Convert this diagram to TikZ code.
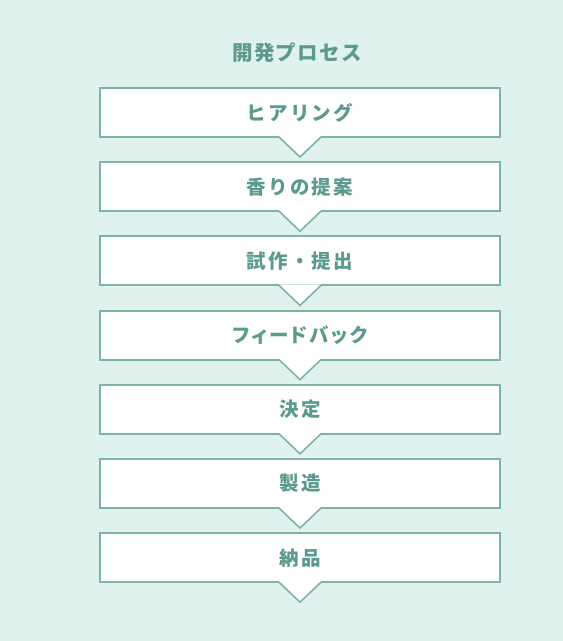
\documentclass[tikz,border=0pt]{standalone}
\usepackage{fontspec}
\usepackage{xcolor}
\usetikzlibrary{positioning,calc}
\newfontfamily\jpfont[LetterSpace=11]{Noto Sans CJK JP}
\newfontfamily\jpkanafont[LetterSpace=11,RawFeature=+palt]{Noto Sans CJK JP}
\newfontfamily\jptitlefont[LetterSpace=6]{Noto Sans CJK JP}
\definecolor{bgmint}{HTML}{E0F2EE}
\definecolor{framegreen}{HTML}{7FB3A9}
\definecolor{textgreen}{HTML}{5C9A8F}

\begin{document}
\begin{tikzpicture}[
    x=1pt, y=1pt,
    node distance=23.2pt,
    every node/.style={text=textgreen},
    stepbox/.style={rectangle, draw=framegreen, line width=2pt, fill=white, minimum width=400pt, minimum height=49pt, inner sep=0pt, font=\jpfont\bfseries\fontsize{19.5}{22}\selectfont},
    kanabox/.style={stepbox, font=\jpkanafont\bfseries\fontsize{19.5}{22}\selectfont},
    heading/.style={font=\jptitlefont\bfseries\fontsize{20.5}{24}\selectfont}
]

\useasboundingbox[fill=bgmint] (0,0) rectangle (563,-641);

\node[heading] (title) at (297,-52.5) {開発プロセス};

\node[stepbox] (hearing) at (300,-112.5) {ヒアリング};
\node[stepbox, below=of hearing] (proposal) {香りの提案};
\node[stepbox, below=of proposal] (trial) {試作・提出};
\node[kanabox, below=of trial] (feedback) {フィードバック};
\node[stepbox, below=of feedback] (decision) {決定};
\node[stepbox, below=of decision] (production) {製造};
\node[stepbox, below=of production] (delivery) {納品};

% chevrons under each step
\foreach \n in {hearing,proposal,trial,feedback,decision,production,delivery} {
    \fill[white] ($(\n.south)+(-21,2)$) -- ($(\n.south)+(0,-19)$) -- ($(\n.south)+(21,2)$) -- cycle;
    \draw[framegreen, line width=1.6pt] ($(\n.south)+(-21,1)$) -- ($(\n.south)+(0,-19)$) -- ($(\n.south)+(21,1)$);
}

\end{tikzpicture}
\end{document}
